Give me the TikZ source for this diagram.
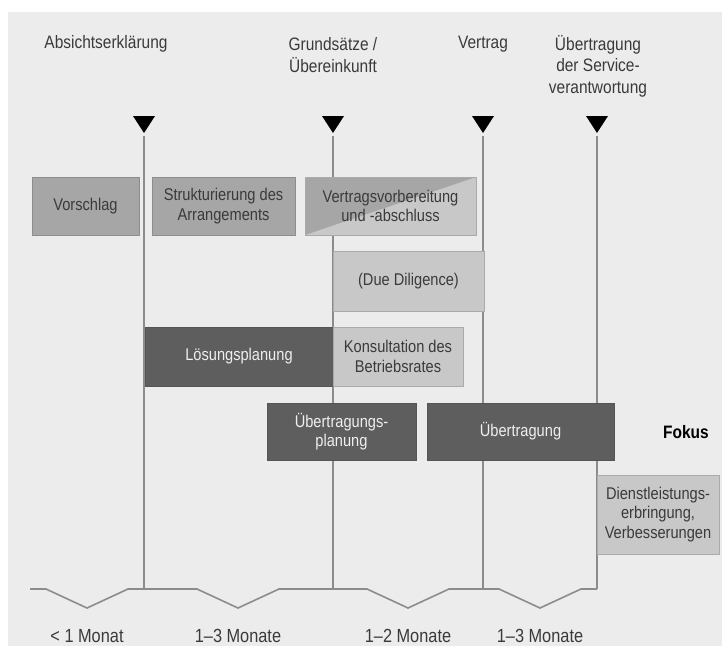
\documentclass[tikz,border=0pt]{standalone}
\usepackage{fontspec}
\setmainfont{Liberation Sans}[FakeStretch=0.86]
\definecolor{bg}{HTML}{ECECEC}
\definecolor{midg}{HTML}{A6A6A6}
\definecolor{lightg}{HTML}{C8C8C8}
\definecolor{darkg}{HTML}{5E5E5E}
\definecolor{lng}{HTML}{8C8C8C}
\definecolor{txt}{HTML}{3A3A3A}
\begin{document}
\begin{tikzpicture}[x=1pt,y=-1pt,
  boxbase/.style={inner sep=0pt, align=center, line width=0.6pt,
    font=\fontsize{17}{19.5}\selectfont},
  midbox/.style={boxbase, fill=midg, draw=midg!85!black, text=txt},
  lightbox/.style={boxbase, fill=lightg, draw=lightg!85!black, text=txt},
  darkbox/.style={boxbase, fill=darkg, draw=darkg!90!black, text=white!90!darkg},
  hdr/.style={align=center, inner sep=0pt, text=txt, font=\fontsize{18}{21.5}\selectfont},
  mon/.style={inner sep=0pt, text=txt, font=\fontsize{19}{22}\selectfont},
  tline/.style={draw=lng, line width=1.6pt},
  tri/.style={fill=black}]
\useasboundingbox (0,0) rectangle (722,648);
\fill[bg] (8,12) rectangle (722,646);

% headers
\node[hdr] (h1) at (106,44) {Absichtserklärung};
\node[hdr] (h2) at (333,55) {Grundsätze /\\Übereinkunft};
\node[hdr] (h3) at (483,44) {Vertrag};
\node[hdr] (h4) at (598,66) {Übertragung\\der Service-\\verantwortung};

% milestone coordinates
\foreach \n/\x in {1/144,2/333,3/483,4/597}{
  \coordinate (t\n) at (\x,116);
  \coordinate (l\n) at (\x,136);
  \coordinate (b\n) at (\x,589);
}
\foreach \n in {1,2,3,4}{
  \fill[tri] (t\n) ++(-11,0) -- ++(22,0) -- ++(-11,17) -- cycle;
  \draw[tline] (l\n) -- (b\n);
}

% baseline with zigzags
\coordinate (bs) at (30,589);
\draw[tline, line join=miter] (bs) -- (46,589) -- (87,608) -- (128,589) -- (b1)
  -- (197,589) -- (238,608) -- (279,589) -- (b2)
  -- (367,589) -- (408,608) -- (449,589) -- (b3)
  -- (499,589) -- (540,608) -- (581,589) -- (b4);

% boxes
\node[midbox, minimum width=107pt, minimum height=58pt] (vor) at (85.5,206) {Vorschlag};
\node[midbox, minimum width=143pt, minimum height=58pt] (str) at (223.5,206) {Strukturierung des\\Arrangements};
\node[lightbox, minimum width=171pt, minimum height=58pt,
  path picture={\fill[midg] (path picture bounding box.north west) -- (path picture bounding box.north east) -- (path picture bounding box.south west) -- cycle;}]
  (ver) at (390.5,206) {Vertragsvorbereitung\\und -abschluss};
\node[lightbox, minimum width=151pt, minimum height=60pt] (due) at (408.5,281) {(Due Diligence)};
\node[darkbox, minimum width=188pt, minimum height=59pt] (loe) at (239,356.5) {Lösungsplanung};
\node[lightbox, minimum width=130pt, minimum height=59pt] (kon) at (398,356.5) {Konsultation des\\Betriebsrates};
\node[darkbox, minimum width=149pt, minimum height=57pt] (upl) at (341.5,431.5) {Übertragungs-\\planung};
\node[darkbox, minimum width=187pt, minimum height=57pt] (ueb) at (520.5,431.5) {Übertragung};
\node[lightbox, minimum width=122pt, minimum height=79pt] (die) at (658,514.5) {Dienstleistungs-\\erbringung,\\Verbesserungen};
\node[inner sep=0pt, font=\fontsize{18}{21}\selectfont\bfseries] (fok) at (686,432) {Fokus};

% month labels
\node[mon] (m1) at (87,636) {< 1 Monat};
\node[mon] (m2) at (238,636) {1–3 Monate};
\node[mon] (m3) at (408,636) {1–2 Monate};
\node[mon] (m4) at (540,636) {1–3 Monate};
\end{tikzpicture}
\end{document}
